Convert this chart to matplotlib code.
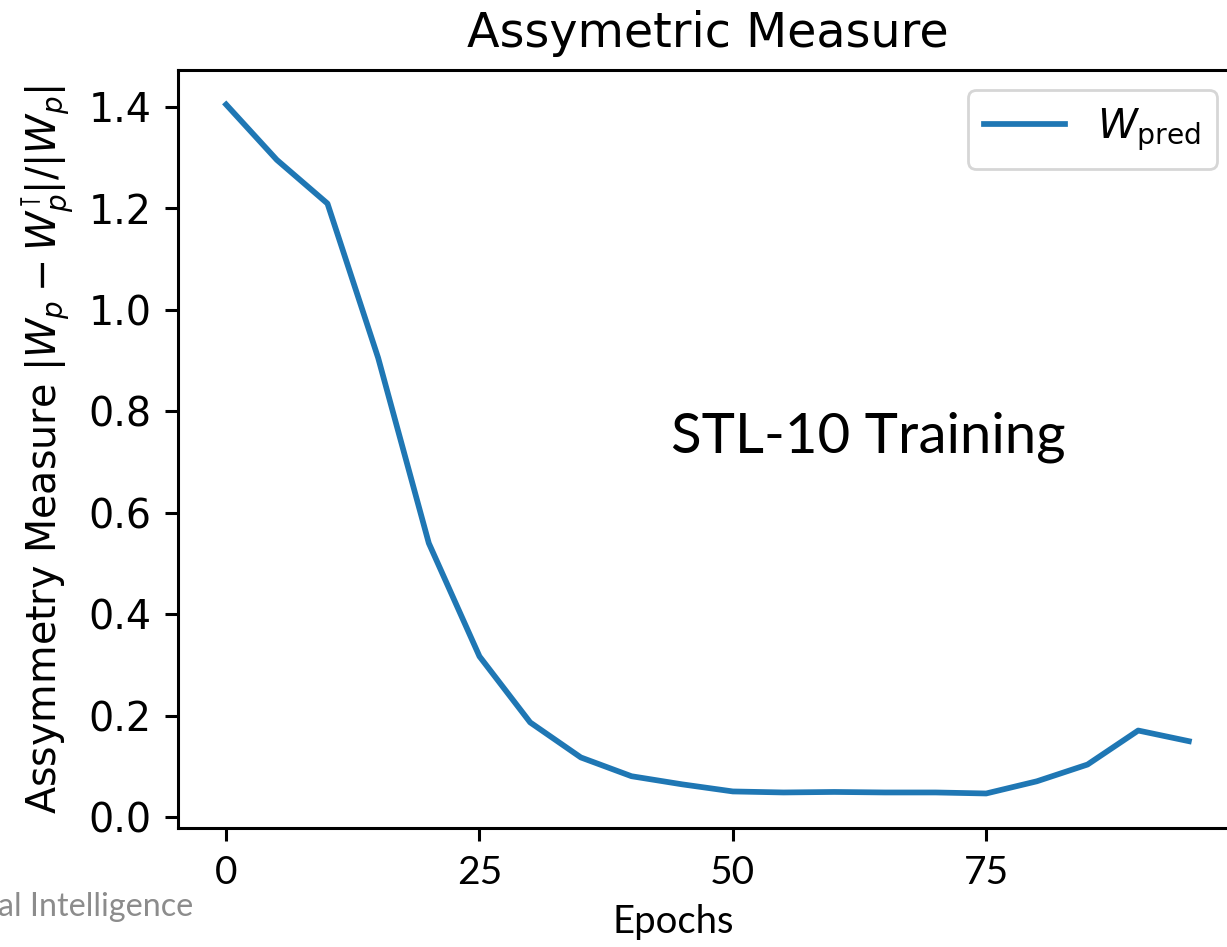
import matplotlib
matplotlib.use("Agg")
import matplotlib.pyplot as plt

epochs = [0, 5, 10, 15, 20, 25, 30, 35, 40, 45, 50, 55, 60, 65, 70, 75, 80, 85, 90, 95]
asym_pred = [1.404, 1.295, 1.209, 0.905, 0.540, 0.317, 0.187, 0.118, 0.081, 0.065,
             0.051, 0.049, 0.050, 0.049, 0.049, 0.047, 0.071, 0.104, 0.171, 0.150]
xticks = [0, 25, 50, 75]
yticks = [0.0, 0.2, 0.4, 0.6, 0.8, 1.0, 1.2, 1.4]

S = 2.75
plt.rcParams['font.family'] = ['DejaVu Sans']
plt.rcParams['mathtext.fontset'] = 'dejavusans'

W, H = 1227, 947
fig = plt.figure(figsize=(W/100, H/100), dpi=100)
ax = fig.add_axes([178/W, 119/H, (1237-178)/W, (828-70)/H])

ax.plot(epochs, asym_pred, color='#1f77b4', lw=1.5*S, label=r'$W_{\mathrm{pred}}$')
ax.set_xlim(-4.75, 99.75)
ax.set_ylim(-0.021, 1.472)

for sp in ax.spines.values():
    sp.set_linewidth(0.8*S)
ax.tick_params(length=3.5*S, width=0.8*S, pad=3.5*S)
ax.set_xticks(xticks)
ax.set_yticks(yticks)
ax.set_yticklabels([f"{v:.1f}" for v in yticks], fontsize=28.5)
ax.set_xticklabels([str(v) for v in xticks], family='Lato', fontsize=28)

ax.set_title('Assymetric Measure', fontsize=34.3, pad=6*S)
ax.set_ylabel(r'Assymmetry Measure $|W_p - W_p^{\intercal}|/|W_p|$', fontsize=28.5, labelpad=3.0*S)

# x-axis label (placed as on the source slide, slightly left of axes centre)
ax.annotate('Epochs', xy=(673/W, 1 - 933/H), xycoords='figure fraction',
            family='Lato', fontsize=27.5, ha='center', va='baseline')

leg = ax.legend(loc='upper right', fontsize=29, handlelength=2.0)
leg.get_frame().set_linewidth(2.0)

fig.text(868/W, 1 - 437/H, 'STL-10 Training', family='Lato',
         fontsize=40.6, ha='center', va='center')

fig.text(193/W, 1 - 916/H, 'al Intelligence', family='Lato', fontsize=23.2,
         color='#8c8c8c', ha='right', va='baseline')

fig.savefig('out.png', dpi=100)
